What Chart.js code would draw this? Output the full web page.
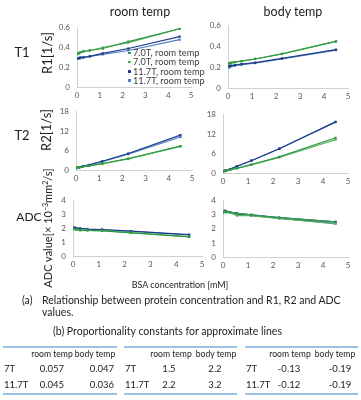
<!DOCTYPE html>
<html><head><meta charset="utf-8">
<script src="https://cdn.jsdelivr.net/npm/chart.js@4"></script>
<style>
html,body{margin:0;padding:0;background:#fff;}
body{width:361px;height:400px;position:relative;overflow:hidden;font-family:Lato,"Liberation Sans",sans-serif;color:#222;}
.t{position:absolute;white-space:nowrap;line-height:1;}
.c{transform:translate(-50%,-50%);}
.l{transform:translateY(-50%);}
.r{transform:translate(-50%,-50%) rotate(-90deg);}
canvas{position:absolute;}
.rule{position:absolute;height:1.5px;background:#9cc3e5;}
</style></head><body>
<script>
// ---- data ----
const bsa = [0, 0.07, 0.14, 0.28, 0.56, 1.13, 2.25, 4.5];
const seriesLabels = ['7.0T, room temp', '7.0T, room temp', '11.7T, room temp', '11.7T, room temp'];

const r1Room7a  = [0.34, 0.34, 0.35, 0.36, 0.37, 0.39, 0.46, 0.59];
const r1Room7b  = [0.33, 0.34, 0.35, 0.36, 0.37, 0.40, 0.45, 0.59];
const r1Room11a = [0.29, 0.29, 0.30, 0.30, 0.31, 0.34, 0.39, 0.51];
const r1Room11b = [0.29, 0.29, 0.29, 0.30, 0.31, 0.33, 0.37, 0.48];

const r1Body7a  = [0.24, 0.24, 0.245, 0.25, 0.26, 0.28, 0.33, 0.45];
const r1Body7b  = [0.23, 0.235, 0.24, 0.25, 0.26, 0.28, 0.33, 0.45];
const r1Body11a = [0.21, 0.21, 0.215, 0.22, 0.23, 0.245, 0.285, 0.37];
const r1Body11b = [0.20, 0.20, 0.21, 0.215, 0.225, 0.24, 0.28, 0.365];

const r2Room7a  = [0.7, 0.75, 0.85, 1.0, 1.3, 2.0, 3.5, 7.4];
const r2Room7b  = [0.7, 0.75, 0.85, 1.0, 1.25, 1.9, 3.4, 7.3];
const r2Room11a = [0.6, 0.7, 0.9, 1.1, 1.6, 2.7, 5.1, 10.8];
const r2Room11b = [0.6, 0.7, 0.85, 1.1, 1.5, 2.6, 4.9, 10.2];

const r2Body7a  = [0.5, 0.6, 0.8, 1.0, 1.5, 2.6, 5.0, 10.9];
const r2Body7b  = [0.5, 0.6, 0.75, 0.95, 1.4, 2.5, 4.8, 10.3];
const r2Body11a = [0.5, 0.7, 0.9, 1.2, 2.1, 3.8, 7.5, 15.8];
const r2Body11b = [0.5, 0.7, 0.9, 1.2, 2.1, 3.8, 7.5, 15.7];

const adcRoom7a  = [2.0, 1.95, 1.95, 1.85, 1.85, 1.82, 1.68, 1.38];
const adcRoom7b  = [1.95, 1.95, 1.9, 1.9, 1.86, 1.83, 1.7, 1.4];
const adcRoom11a = [2.05, 2.05, 2.0, 2.0, 1.95, 1.92, 1.8, 1.55];
const adcRoom11b = [2.02, 2.0, 2.0, 1.98, 1.94, 1.9, 1.78, 1.52];

const adcBody7a  = [3.2, 3.25, 3.2, 3.2, 3.1, 3.0, 2.8, 2.5];
const adcBody7b  = [3.2, 3.2, 3.2, 3.15, 2.95, 2.95, 2.75, 2.35];
const adcBody11a = [3.2, 3.3, 3.25, 3.2, 3.1, 3.0, 2.8, 2.5];
const adcBody11b = [3.2, 3.25, 3.2, 3.15, 3.05, 2.95, 2.75, 2.4];

const xTicks = [0, 1, 2, 3, 4, 5];
const r1Ticks = [0, 0.2, 0.4, 0.6];
const r2Ticks = [0, 6, 12, 18];
const adcTicks = [0, 1, 2, 3, 4];

const tempHeaders = ['room temp', 'body temp'];
const fieldLabels = ['7T', '11.7T'];
const r1Const  = ['0.057', '0.047', '0.045', '0.036'];
const r2Const  = ['1.5', '2.2', '2.2', '3.2'];
const adcConst = ['-0.13', '-0.19', '-0.12', '-0.19'];

// ---- styles ----
const colors = ['#2f9a45', '#58b35a', '#1f3d8a', '#4f7fc0'];
const YW = 30, PT = 8, PR = 8, XH = 16;
Chart.defaults.font.family = 'Lato, "Liberation Sans", sans-serif';

function makeChart(p, ticks, sets) {
  const c = document.createElement('canvas');
  const w = p.r - p.l + YW + PR, h = p.b - p.t + PT + XH;
  c.width = w; c.height = h;
  c.style.left = (p.l - YW) + 'px'; c.style.top = (p.t - PT) + 'px';
  c.style.width = w + 'px'; c.style.height = h + 'px';
  document.body.appendChild(c);
  new Chart(c, {
    type: 'line',
    data: { datasets: sets.map((vals, i) => ({
      label: seriesLabels[i],
      data: bsa.map((x, j) => ({ x: x, y: vals[j] })),
      borderColor: colors[i], backgroundColor: colors[i],
      borderWidth: 1.2, pointStyle: 'rect', pointRadius: 1.6, pointBorderWidth: 0, tension: 0
    })) },
    options: {
      responsive: false, animation: false, devicePixelRatio: 1,
      layout: { padding: { top: PT, right: PR, left: 0, bottom: 0 } },
      plugins: { legend: { display: false }, tooltip: { enabled: false } },
      scales: {
        x: { type: 'linear', min: xTicks[0], max: xTicks[xTicks.length - 1],
             afterBuildTicks: s => { s.ticks = xTicks.map(v => ({ value: v })); },
             ticks: { padding: 4, font: { size: 8 }, color: '#595959', maxRotation: 0 },
             grid: { display: false, drawTicks: false }, border: { color: '#d0d0d0' },
             afterFit: s => { s.height = XH; } },
        y: { min: ticks[0], max: ticks[ticks.length - 1],
             afterBuildTicks: s => { s.ticks = ticks.map(v => ({ value: v })); },
             ticks: { padding: 7, font: { size: 8 }, color: '#595959' },
             grid: { display: false, drawTicks: false }, border: { color: '#d0d0d0' },
             afterFit: s => { s.width = YW; } }
      }
    }
  });
}

makeChart({ l: 77, t: 24, r: 191, b: 87 }, r1Ticks, [r1Room7a, r1Room7b, r1Room11a, r1Room11b]);
makeChart({ l: 228, t: 22, r: 348, b: 88 }, r1Ticks, [r1Body7a, r1Body7b, r1Body11a, r1Body11b]);
makeChart({ l: 76, t: 108, r: 192, b: 170 }, r2Ticks, [r2Room7a, r2Room7b, r2Room11a, r2Room11b]);
makeChart({ l: 223, t: 111, r: 348, b: 173 }, r2Ticks, [r2Body7a, r2Body7b, r2Body11a, r2Body11b]);
makeChart({ l: 73, t: 197, r: 202, b: 256 }, adcTicks, [adcRoom7a, adcRoom7b, adcRoom11a, adcRoom11b]);
makeChart({ l: 223, t: 197, r: 348, b: 257 }, adcTicks, [adcBody7a, adcBody7b, adcBody11a, adcBody11b]);

// ---- text ----
function txt(s, x, y, cls, style) {
  const d = document.createElement('div');
  d.className = 't ' + cls; d.innerHTML = s;
  d.style.left = x + 'px'; d.style.top = y + 'px';
  if (style) d.style.cssText += style;
  document.body.appendChild(d);
  return d;
}
txt('room temp', 140, 12, 'c', 'font-size:12.5px;');
txt('body temp', 293, 12, 'c', 'font-size:12.5px;');
txt('T1', 22, 52, 'c', 'font-size:13px;');
txt('T2', 22, 135, 'c', 'font-size:13px;');
txt('ADC', 29, 217, 'c', 'font-size:12px;');
txt('R1[1/s]', 47, 53, 'r', 'font-size:13px;');
txt('R2[1/s]', 46, 130, 'r', 'font-size:13px;');
txt('ADC value[× 10<sup style="font-size:7px;vertical-align:4px">−3</sup>mm<sup style="font-size:7px;vertical-align:4px">2</sup>/s]', 47, 228, 'r', 'font-size:11px;');
txt('BSA concentration [mM]', 180, 284, 'c', 'font-size:9px;');
txt('(a)', 22, 300, 'l', 'font-size:10.5px;');
txt('Relationship between protein concentration and R1, R2 and ADC', 42, 300, 'l', 'font-size:10.5px;');
txt('values.', 42, 312, 'l', 'font-size:10.5px;');
txt('(b) Proportionality constants for approximate lines', 53, 331, 'l', 'font-size:10.5px;');

// legend
const legY = [53, 62, 71.5, 80.5];
seriesLabels.forEach((s, i) => {
  const m = document.createElement('div');
  m.style.cssText = 'position:absolute;width:2.5px;height:2.5px;left:128px;top:' + (legY[i] - 1.2) + 'px;background:' + colors[i];
  document.body.appendChild(m);
  txt(s, 133, legY[i], 'l', 'font-size:9.2px;color:#404040;');
});

// tables
const tables = [
  { l: 3, r: 117, hc: [52, 95], vc: [52, 102], vals: r1Const },
  { l: 124, r: 237, hc: [171, 216], vc: [169, 215], vals: r2Const },
  { l: 245, r: 358, hc: [290, 335], vc: [289, 340], vals: adcConst }
];
tables.forEach(tb => {
  [346, 393].forEach(y => {
    const d = document.createElement('div');
    d.className = 'rule';
    d.style.left = tb.l + 'px'; d.style.width = (tb.r - tb.l) + 'px'; d.style.top = y + 'px';
    document.body.appendChild(d);
  });
  tempHeaders.forEach((h, k) => txt(h, tb.hc[k], 354, 'c', 'font-size:8.6px;'));
  fieldLabels.forEach((f, r) => {
    const y = [369, 385][r];
    txt(f, tb.l + 1, y, 'l', 'font-size:9.5px;');
    tb.vc.forEach((cx, k) => txt(tb.vals[r * 2 + k], cx, y, 'c', 'font-size:9.5px;'));
  });
});
</script>
</body></html>
